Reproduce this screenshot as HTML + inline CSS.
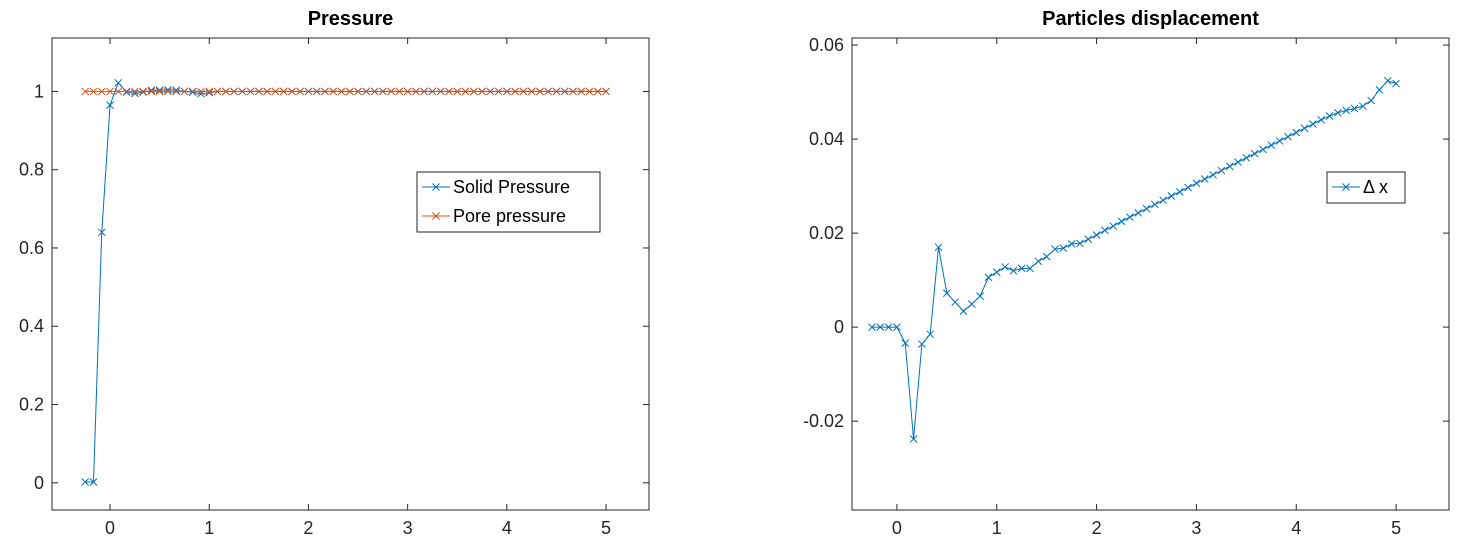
<!DOCTYPE html>
<html><head><meta charset="utf-8"><style>
body{margin:0;background:#fff;width:1459px;height:552px;overflow:hidden;font-family:"Liberation Sans",Arial,sans-serif}
</style></head><body>
<svg id="svg" width="1459" height="552" xmlns="http://www.w3.org/2000/svg"></svg>
<script>
const xsteps = 64;
const leftXTicks = [0,1,2,3,4,5];
const leftYTicks = [0,0.2,0.4,0.6,0.8,1];
const rightXTicks = [0,1,2,3,4,5];
const rightYTicks = [-0.02,0,0.02,0.04,0.06];
const solidPressure = [0.002,0.002,0.64,0.965,1.022,0.998,0.995,0.998,1.003,1.003,1.004,1.003,1.0,0.998,0.994,0.997,1.0,1.0,1.0,1,1,1,1,1,1,1,1,1,1,1,1,1,1,1,1,1,1,1,1,1,1,1,1,1,1,1,1,1,1,1,1,1,1,1,1,1,1,1,1,1,1,1,1,1];
const porePressure = new Array(64).fill(1);
const displacement = [0,0,0,0,-0.0034,-0.0238,-0.0036,-0.0015,0.017,0.0072,0.0053,0.0034,0.0049,0.0066,0.0106,0.0117,0.0128,0.012,0.0125,0.0125,0.014,0.015,0.0166,0.0168,0.0177,0.0178,0.0187,0.0196,0.0206,0.0215,0.0225,0.0234,0.0243,0.0252,0.0261,0.0270,0.0279,0.0288,0.0297,0.0306,0.0315,0.0324,0.0333,0.0342,0.0351,0.0360,0.0369,0.0378,0.0387,0.0396,0.0405,0.0414,0.0423,0.0432,0.0441,0.0449,0.0456,0.0461,0.0465,0.0470,0.0482,0.0505,0.0524,0.0518];
const xs = []; for(let i=0;i<xsteps;i++) xs.push(-0.25+i/12);

const svg=document.getElementById('svg');
const NS='http://www.w3.org/2000/svg';
function mk(tag,attrs,parent){const e=document.createElementNS(NS,tag);for(const k in attrs)e.setAttribute(k,attrs[k]);(parent||svg).appendChild(e);return e;}

function axes(name,L,R,T,B,xmin,xmax,ymin,ymax,xt,yt,title){
  const g=mk('g',{});
  
  
  const sx=v=>L+(v-xmin)/(xmax-xmin)*(R-L);
  const sy=v=>B-(v-ymin)/(ymax-ymin)*(B-T);
  mk('rect',{x:L,y:T,width:R-L,height:B-T,fill:'#fff',stroke:'#262626','stroke-width':1},g);
  xt.forEach(v=>{const x=sx(v);
    mk('line',{x1:x,x2:x,y1:B,y2:B-6,stroke:'#262626'},g);
    mk('line',{x1:x,x2:x,y1:T,y2:T+6,stroke:'#262626'},g);
    const t=mk('text',{x:x,y:B+24,'text-anchor':'middle','font-size':18,fill:'#262626'},g);t.textContent=v;
    
    });
  yt.forEach(v=>{const y=sy(v);
    mk('line',{x1:L,x2:L+6,y1:y,y2:y,stroke:'#262626'},g);
    mk('line',{x1:R,x2:R-6,y1:y,y2:y,stroke:'#262626'},g);
    const t=mk('text',{x:L-8,y:y+6,'text-anchor':'end','font-size':18,fill:'#262626'},g);t.textContent=v;
    
    });
  const tt=mk('text',{x:(L+R)/2,y:25,'text-anchor':'middle','font-size':20,'font-weight':'bold',fill:'#000'},g);tt.textContent=title;
  
  
  return {g,sx,sy};
}
function series(ax,xv,yv,color,name){
  const g=mk('g',{},ax.g);
  
  
  mk('polyline',{points:xv.map((x,i)=>ax.sx(x)+','+ax.sy(yv[i])).join(' '),fill:'none',stroke:color,'stroke-width':1},g);
  xv.forEach((x,i)=>{const px=ax.sx(x),py=ax.sy(yv[i]);
    mk('path',{d:`M${px-3.5},${py-3.5}L${px+3.5},${py+3.5}M${px-3.5},${py+3.5}L${px+3.5},${py-3.5}`,stroke:color,'stroke-width':1},g);});
}
function legend(x,y,w,entries){
  const g=mk('g',{});
  
  
  mk('rect',{x:x,y:y,width:w,height:entries.length*29+2,fill:'#fff',stroke:'#262626'},g);
  entries.forEach((e,i)=>{const cy=y+15+i*29;
    mk('line',{x1:x+5,x2:x+33,y1:cy,y2:cy,stroke:e[1]},g);
    mk('path',{d:`M${x+15.5},${cy-3.5}L${x+22.5},${cy+3.5}M${x+15.5},${cy+3.5}L${x+22.5},${cy-3.5}`,stroke:e[1]},g);
    const t=mk('text',{x:x+36,y:cy+6,'font-size':18,fill:'#000'},g);t.textContent=e[0];
    
    });
}
const L1=axes('pressure-axes',52,649,38,510,-0.585,5.433,-0.0695,1.1365,leftXTicks,leftYTicks,'Pressure');
series(L1,xs,solidPressure,'#0072BD','solid-pressure-series');
series(L1,xs,porePressure,'#D95319','pore-pressure-series');
legend(417,172,183,[['Solid Pressure','#0072BD'],['Pore pressure','#D95319']]);
const L2=axes('displacement-axes',852,1449,38,510,-0.45,5.53,-0.0389,0.0615,rightXTicks,rightYTicks,'Particles displacement');
series(L2,xs,displacement,'#0072BD','displacement-series');
legend(1327,172,78,[['\u0394 x','#0072BD']]);
</script>
</body></html>
